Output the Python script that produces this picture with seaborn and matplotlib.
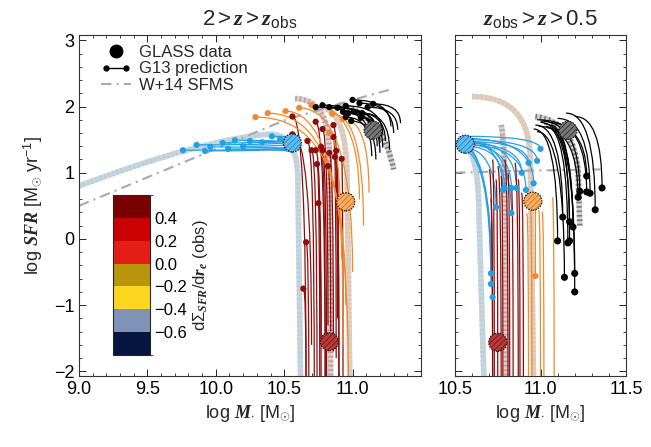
import numpy as np
import pandas as pd
import matplotlib
matplotlib.use('Agg')
import matplotlib.pyplot as plt
import seaborn as sns
from matplotlib.path import Path
from matplotlib.patches import PathPatch
from matplotlib.lines import Line2D
from matplotlib.legend_handler import HandlerLine2D
from matplotlib.colors import ListedColormap, BoundaryNorm
import matplotlib.colorbar as mcb
from matplotlib.ticker import MultipleLocator

# ---------------- data ----------------
# Left panel (2 > z > z_obs): thin G13 tracks, start = dot
LB_sx = [9.76, 9.86, 9.96, 10.05, 10.14, 10.25, 10.34, 10.41, 10.47, 10.09, 10.20, 9.92]
LB_sy = [1.34, 1.42, 1.39, 1.45, 1.49, 1.48, 1.46, 1.55, 1.51, 1.36, 1.40, 1.33]
LB_ex = [10.55, 10.58, 10.56, 10.60, 10.57, 10.62, 10.58, 10.60, 10.59, 10.56, 10.60, 10.55]
LB_ey = [1.40, 1.48, 1.35, 1.52, 1.44, 1.38, 1.55, 1.50, 1.42, 1.30, 1.46, 1.37]

LR_sx = [10.56, 10.56, 10.67, 10.73, 10.78, 10.86, 10.86, 10.70, 10.73, 10.77, 10.78, 10.83, 10.88, 10.87, 10.92, 10.74, 10.82, 10.75, 10.66, 10.64]
LR_sy = [1.85, 1.58, 1.48, 1.77, 1.66, 1.72, 1.54, 1.34, 1.34, 1.39, 1.34, 1.30, 1.33, 1.24, 1.21, 1.13, 1.10, 0.54, -0.05, -0.75]
LR_ex = [10.66, 10.70, 10.72, 10.80, 10.82, 10.90, 10.88, 10.74, 10.77, 10.80, 10.81, 10.86, 10.90, 10.89, 10.93, 10.76, 10.84, 10.77, 10.68, 10.66]
LR_ey = [-2.2, -1.6, -2.2, -2.2, -1.3, -2.2, -1.8, -2.2, -1.5, -2.2, -2.2, -1.7, -2.2, -1.2, -2.2, -2.2, -1.4, -2.2, -2.2, -2.2]

LO_sx = [10.29, 10.38, 10.51, 10.61, 10.70, 10.85, 10.83, 10.93]
LO_sy = [1.84, 1.90, 1.93, 1.98, 2.02, 1.89, 1.60, 1.81]
LO_ex = [10.92, 10.95, 10.97, 11.00, 11.05, 11.08, 10.93, 11.12]
LO_ey = [-0.3, -1.0, -2.2, -0.5, 0.6, 0.2, -1.6, 0.7]

LK_sx = [10.73, 10.78, 10.83, 10.89, 10.95, 11.00, 11.05, 11.11, 10.93, 10.97, 11.01, 11.07, 10.95, 10.99, 11.06, 11.15]
LK_sy = [1.99, 2.02, 1.99, 1.98, 2.01, 2.10, 2.05, 1.99, 1.92, 1.90, 1.92, 1.90, 1.84, 1.78, 1.83, 2.04]
LK_ex = [11.12, 11.15, 11.18, 11.20, 11.22, 11.28, 11.30, 11.33, 11.18, 11.20, 11.24, 11.27, 11.14, 11.17, 11.22, 11.35]
LK_ey = [1.55, 1.50, 1.62, 1.45, 1.58, 1.70, 1.60, 1.65, 1.40, 1.30, 1.48, 1.35, 1.25, 1.20, 1.38, 1.75]

# Right panel (z_obs > z > 0.5): thin tracks, end = dot
RB_sx = [10.56, 10.55, 10.57, 10.56, 10.54, 10.57, 10.55, 10.53, 10.56, 10.52, 10.54, 10.58, 10.52, 10.53, 10.51]
RB_sy = [1.55, 1.50, 1.47, 1.52, 1.45, 1.42, 1.48, 1.44, 1.40, 1.50, 1.38, 1.46, 1.42, 1.36, 1.48]
RB_ex = [11.00, 10.98, 10.93, 10.96, 10.89, 10.915, 10.86, 10.83, 10.79, 10.78, 10.74, 10.83, 10.71, 10.71, 10.72]
RB_ey = [1.36, 1.18, 1.15, 0.84, 1.00, 0.74, 0.77, 0.77, 0.77, 0.74, 0.48, 0.39, -0.52, -0.68, -0.88]

RR_sx = [10.70, 10.72, 10.74, 10.75, 10.77, 10.79, 10.81, 10.83, 10.85, 10.87, 10.89, 10.71]
RR_sy = [1.05, 1.20, 0.90, 1.10, 0.95, 1.20, 1.00, 0.80, 1.15, 0.90, 0.70, 0.60]
RR_ex = [10.72, 10.73, 10.75, 10.77, 10.78, 10.81, 10.82, 10.84, 10.87, 10.88, 10.90, 10.72]
RR_ey = [-2.2, -2.2, -2.2, -2.2, -2.2, -2.2, -2.2, -2.2, -2.2, -2.2, -2.2, -2.2]

RO_sx = [10.92, 10.94, 10.97, 10.99, 11.01, 11.07]
RO_sy = [0.39, 0.59, 0.69, 0.44, 0.41, 0.63]
RO_ex = [10.93, 10.95, 10.97, 11.00, 11.02, 11.08]
RO_ey = [-2.2, -2.2, -0.56, -2.2, -2.2, -2.2]
RO_dot = [False, False, True, False, False, False]

RK_sx = [10.98, 11.20, 11.00, 11.05, 11.10, 10.99, 11.15, 10.97, 11.00, 11.02, 10.96, 11.03, 11.06, 10.98, 11.04, 11.08]
RK_sy = [1.80, 1.85, 1.78, 1.76, 1.82, 1.70, 1.90, 1.72, 1.76, 1.74, 1.66, 1.70, 1.72, 1.62, 1.68, 1.66]
RK_ex = [11.27, 11.36, 11.23, 11.27, 11.29, 11.22, 11.32, 11.13, 11.17, 11.19, 11.10, 11.16, 11.17, 11.14, 11.20, 11.20]
RK_ey = [0.95, 0.77, 0.72, 0.71, 0.69, 0.63, 0.44, 0.33, 0.26, 0.18, -0.03, -0.06, -0.03, -0.58, -0.52, -0.80]

# thick hatched median tracks: points P0, C, P1, (C, P2 ...), final line point
BAND_L = {
    'blue':   ([9.00, 9.90, 10.38, 10.60, 10.60, 10.62], [0.80, 1.50, 1.58, 1.62, 0.90, -2.2]),
    'red':    ([10.58, 10.83, 10.83, 10.84], [2.12, 2.12, 1.30, -2.2]),
    'orange': ([10.78, 10.96, 10.96, 10.98], [1.98, 1.92, 0.90, -2.2]),
    'black':  ([10.90, 11.22, 11.30, 11.30], [2.02, 1.90, 1.05, 1.05]),
}
BAND_R = {
    'blue':   ([10.52, 10.64, 10.64, 10.67], [1.50, 1.40, 0.40, -2.2]),
    'red':    ([10.77, 10.79, 10.79, 10.80], [1.72, 1.50, 0.70, -2.2]),
    'orange': ([10.60, 10.94, 10.94, 10.96], [2.15, 2.15, 1.20, -2.2]),
    'black':  ([10.97, 11.20, 11.22, 11.23], [1.85, 1.78, 1.00, 0.20]),
}

BIG_L_x = [10.56, 10.95, 10.83, 11.15]
BIG_L_y = [1.45, 0.56, -1.55, 1.64]
BIG_R_x = [10.56, 10.955, 10.75, 11.16]
BIG_R_y = [1.43, 0.57, -1.56, 1.64]
BIG_keys = ['blue', 'orange', 'red', 'black']

SFMS_L_x = [9.0, 9.5, 10.0, 10.5, 11.0, 11.3]
SFMS_L_y = [0.50, 0.93, 1.36, 1.79, 2.10, 2.27]
SFMS_R_x = [10.5, 10.9, 11.35]
SFMS_R_y = [1.00, 1.03, 1.05]

CB_colors = ['#061640', '#7f93b7', '#fbd720', '#b8950c', '#e41e17', '#cc0000', '#7a0000']
CB_bounds = [-0.8, -0.6, -0.4, -0.2, 0.0, 0.2, 0.4, 0.6]
CB_ticks = [-0.6, -0.4, -0.2, 0.0, 0.2, 0.4]

# ---------------- style ----------------
COL = {'blue': '#22a0e4', 'red': '#8e0c0c', 'orange': '#f38a2a', 'black': '#000000'}
HATCH = {'blue': '#a9d6ef', 'red': '#c99a9a', 'orange': '#f1c29a', 'black': '#7a7a7a'}
BIGFACE = {'blue': '#5cbcef', 'orange': '#f8ad63', 'red': '#b83a3a', 'black': '#777777'}
BIGHATCH = {'blue': '#1f7fb5', 'orange': '#c86a18', 'red': '#6e1010', 'black': '#222222'}

sns.set_style('ticks')
plt.rcParams['font.family'] = ['Liberation Sans', 'DejaVu Sans']
plt.rcParams['mathtext.fontset'] = 'custom'
plt.rcParams['mathtext.rm'] = 'Liberation Sans'
plt.rcParams['mathtext.it'] = 'Liberation Serif:italic'
plt.rcParams['mathtext.bf'] = 'Liberation Serif:bold:italic'
try:
    plt.rcParams['mathtext.bfit'] = 'Liberation Serif:italic:bold'
except KeyError:
    pass
plt.rcParams['hatch.linewidth'] = 0.5

fig = plt.figure(figsize=(6.51, 4.47), dpi=100)
axL = fig.add_axes([79/651, 1-376/447, 342/651, 341/447])
axR = fig.add_axes([455/651, 1-376/447, 171/651, 341/447])


def draw_band(ax, xs, ys, key):
    verts = list(zip(xs, ys))
    codes = [Path.MOVETO] + [Path.CURVE3] * (len(verts) - 2) + [Path.LINETO]
    p = Path(verts, codes)
    ax.add_patch(PathPatch(p, fc='none', ec='#d2d2d2', lw=4.0, capstyle='butt', zorder=2))
    ax.add_patch(PathPatch(p, fc='none', ec=HATCH[key], lw=4.0, ls=(0, (0.3, 0.5)),
                           capstyle='butt', zorder=2.1))


def draw_tracks(ax, sx, sy, ex, ey, key, lw=0.9):
    for x0, y0, x1, y1 in zip(sx, sy, ex, ey):
        p = Path([(x0, y0), (x1, y0), (x1, y1)], [Path.MOVETO, Path.CURVE3, Path.CURVE3])
        ax.add_patch(PathPatch(p, fc='none', ec=COL[key], lw=lw, zorder=3))


def dots(ax, x, y, key, s=20):
    sns.scatterplot(x=x, y=y, ax=ax, color=COL[key], s=s, edgecolor='none', zorder=4, legend=False)


for ax, bands, sx, sy in [(axL, BAND_L, SFMS_L_x, SFMS_L_y), (axR, BAND_R, SFMS_R_x, SFMS_R_y)]:
    sns.lineplot(x=sx, y=sy, ax=ax, color='#a8a8a8', lw=1.5, ls=(0, (5, 2.5, 1, 2.5)),
                 zorder=2.5, legend=False)
    for k, (xs, ys) in bands.items():
        draw_band(ax, xs, ys, k)

# left panel tracks
draw_tracks(axL, LB_sx, LB_sy, LB_ex, LB_ey, 'blue')
draw_tracks(axL, LR_sx, LR_sy, LR_ex, LR_ey, 'red')
draw_tracks(axL, LO_sx, LO_sy, LO_ex, LO_ey, 'orange')
draw_tracks(axL, LK_sx, LK_sy, LK_ex, LK_ey, 'black')
dots(axL, LB_sx, LB_sy, 'blue')
dots(axL, LR_sx, LR_sy, 'red')
dots(axL, LO_sx, LO_sy, 'orange')
dots(axL, LK_sx, LK_sy, 'black')

# right panel tracks
draw_tracks(axR, RB_sx, RB_sy, RB_ex, RB_ey, 'blue')
draw_tracks(axR, RR_sx, RR_sy, RR_ex, RR_ey, 'red')
draw_tracks(axR, RO_sx, RO_sy, RO_ex, RO_ey, 'orange')
draw_tracks(axR, RK_sx, RK_sy, RK_ex, RK_ey, 'black')
dots(axR, RB_ex, RB_ey, 'blue')
dots(axR, [x for x, d in zip(RO_ex, RO_dot) if d], [y for y, d in zip(RO_ey, RO_dot) if d], 'orange')
dots(axR, RK_ex, RK_ey, 'black', s=26)

# big hatched median circles
for ax, bx, by in [(axL, BIG_L_x, BIG_L_y), (axR, BIG_R_x, BIG_R_y)]:
    for x, y, k in zip(bx, by, BIG_keys):
        ax.scatter([x], [y], s=170, facecolor=BIGFACE[k], edgecolor=BIGHATCH[k], hatch='//////',
                   linewidths=0, zorder=6)
        ax.scatter([x], [y], s=170, facecolor='none', edgecolor='#1a1a1a',
                   linewidths=0.9, linestyle=(0, (1.2, 1.0)), zorder=6.1)

# axes formatting
for ax in (axL, axR):
    ax.set_ylim(-2.07, 3.08)
    ax.yaxis.set_major_locator(MultipleLocator(1))
    ax.yaxis.set_minor_locator(MultipleLocator(0.2))
    ax.xaxis.set_major_locator(MultipleLocator(0.5))
    ax.xaxis.set_minor_locator(MultipleLocator(0.1))
    ax.tick_params(which='both', direction='in', top=True, right=True, colors='#222222',
                   labelcolor='black')
    ax.tick_params(which='major', length=5, width=0.7, labelsize=13)
    ax.tick_params(which='minor', length=2.5, width=0.6)
    for sp in ax.spines.values():
        sp.set_linewidth(0.8)
        sp.set_color('#333333')
    ax.set_xlabel(r'log $\mathbfit{M}_{\bullet}$ [M$_{\odot}$]', fontsize=13)

axL.set_xlim(9.0, 11.5)
axR.set_xlim(10.5, 11.5)
axL.set_xticks([9.0, 9.5, 10.0, 10.5, 11.0])
axL.set_xticklabels(['9.0', '9.5', '10.0', '10.5', '11.0'])
axR.set_xticks([10.5, 11.0, 11.5])
axR.set_xticklabels(['10.5', '11.0', '11.5'])
axR.set_yticklabels([])
axL.set_yticks([-2, -1, 0, 1, 2, 3])
axL.set_yticklabels(['\u22122', '\u22121', '0', '1', '2', '3'])
axL.set_ylabel(r'log $\mathbfit{SFR}$ [M$_{\odot}$ yr$^{-1}$]', fontsize=13, labelpad=6)

axL.set_title(r'2$>$$\mathbfit{z}$$>$$\mathbfit{z}_{\mathrm{obs}}$', fontsize=16, pad=7)
axR.set_title(r'$\mathbfit{z}_{\mathrm{obs}}$$>$$\mathbfit{z}$$>$0.5', fontsize=16, pad=7)

# legend
h1 = Line2D([], [], ls='none', marker='o', ms=9, color='black')
h2 = Line2D([], [], ls='-', lw=1.0, marker='o', ms=3.5, color='black')
h3 = Line2D([], [], ls=(0, (5, 2.5, 1, 2.5)), lw=1.5, color='#a8a8a8')
axL.legend([h1, h2, h3], ['GLASS data', 'G13 prediction', 'W+14 SFMS'],
           handler_map={h1: HandlerLine2D(numpoints=1), h2: HandlerLine2D(numpoints=2)},
           loc='upper left', bbox_to_anchor=(0.045, 0.99), frameon=False, fontsize=12,
           handlelength=1.8, handletextpad=0.45, labelspacing=0.08, borderaxespad=0)

# colorbar
cax = fig.add_axes([113/651, 1-355/447, 37/651, 160/447])
cmap = ListedColormap(CB_colors)
norm = BoundaryNorm(CB_bounds, cmap.N)
cb = mcb.ColorbarBase(cax, cmap=cmap, norm=norm, boundaries=CB_bounds, ticks=CB_ticks)
cb.set_ticklabels(['\u22120.6', '\u22120.4', '\u22120.2', '0.0', '0.2', '0.4'])
cax.tick_params(direction='in', length=8, width=0.8, labelsize=12, colors='#111111',
                labelcolor='black', pad=3)
cb.outline.set_linewidth(0.8)
cb.set_label(r'd$\Sigma_{\mathbfit{SFR}}$/d$\mathbfit{r}_{\mathbf{e}}$ (obs)', fontsize=12, labelpad=3)

fig.savefig('out.png', dpi=100)
